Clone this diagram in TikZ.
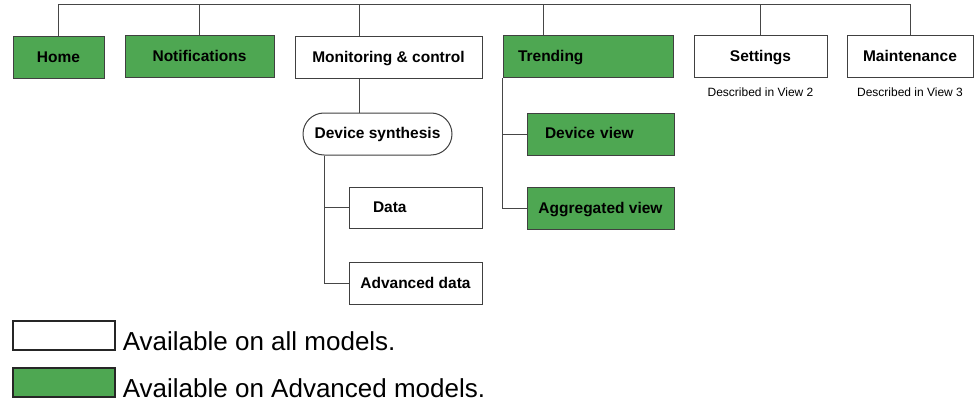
\documentclass[tikz,border=0pt]{standalone}
\usepackage{fontspec}
\setmainfont{Liberation Sans}
\usepackage{tikz}
\usetikzlibrary{
  calc,
  positioning
}
\definecolor{advgreen}{RGB}{78,167,82}
\definecolor{edgegray}{RGB}{64,64,64}
\definecolor{linkgray}{RGB}{70,70,70}
\tikzset{
  page/.style={draw=edgegray,line width=1pt,fill=white,minimum height=42pt,
    inner sep=0pt,text height=12pt,text depth=2pt,align=center,
    font=\fontsize{15.5}{18}\selectfont\bfseries},
  advpage/.style={page,fill=advgreen},
  synth/.style={page,rounded corners=21pt},
  link/.style={draw=linkgray,line width=1pt},
  note/.style={inner sep=0pt,font=\fontsize{12}{14}\selectfont},
  legbox/.style={draw=black!85,line width=1.3pt,minimum width=102pt,
    minimum height=29pt,inner sep=0pt},
  legtext/.style={inner sep=0pt,font=\fontsize{26}{30}\selectfont}
}

\begin{document}
\begin{tikzpicture}[x=1pt,y=-1pt]
  \useasboundingbox (0,0) rectangle (978,404);
  % top level pages
  \node[advpage,minimum width=91pt] (home) at (58.5,58) {Home};
  \node[advpage,minimum width=149pt] (notif) at (199.5,57) {Notifications};
  \node[page,minimum width=187pt] (mon) at (388.5,58) {Monitoring \& control};
  \node[advpage,text width=140pt,inner xsep=15pt,align=left] (trend) at (588,57) {Trending};
  \node[page,minimum width=133pt] (set) at (760.5,57) {Settings};
  \node[page,minimum width=126pt] (mnt) at (910,57) {Maintenance};
  \node[note,below=9pt of set] (setnote) {Described in View 2};
  \node[note,below=9pt of mnt] (mntnote) {Described in View 3};
  % sub pages
  \node[synth,minimum width=149pt] (syn) at (377.5,134) {Device synthesis};
  \node[page,text width=85pt,inner xsep=24pt,align=left,minimum height=41pt] (data) at (415.5,207.5) {Data};
  \node[page,minimum width=133pt] (adv) at (415.5,283) {Advanced data};
  \node[advpage,text width=111pt,inner xsep=18pt,align=left] (dev) at (600.5,134) {Device view};
  \node[advpage,minimum width=147pt] (agg) at (600.5,208) {Aggregated view};
  % branch positions
  \coordinate (top) at (0,5);
  \coordinate (monx) at (359,0);
  \coordinate (trx) at (543,0);
  \coordinate (synx) at (324,0);
  % tree links
  \draw[link] (home.north) -- (home.north |- top) -- (mnt.north |- top) -- (mnt.north);
  \foreach \n in {notif,set}
    \draw[link] (\n.north) -- (\n.north |- top);
  \draw[link] (monx |- mon.north) -- (monx |- top);
  \draw[link] (trx |- trend.north) -- (trx |- top);
  \draw[link] (monx |- mon.south) -- (monx |- syn.north);
  \draw[link] (synx |- syn.south) |- (adv.west);
  \draw[link] (synx |- data.west) -- (data.west);
  \draw[link] (trend.south west) |- (agg.west);
  \draw[link] (trend.south west |- dev.west) -- (dev.west);
  % legend
  \node[legbox,fill=white] (legall) at (64,335.5) {};
  \node[legbox,fill=advgreen] (legadv) at (64,382.5) {};
  \node[legtext,anchor=base west] (legalltxt) at ([xshift=7pt]legall.south east) {Available on all models.};
  \node[legtext,anchor=base west] (legadvtxt) at ([xshift=7pt]legadv.south east) {Available on Advanced models.};
\end{tikzpicture}
\end{document}
